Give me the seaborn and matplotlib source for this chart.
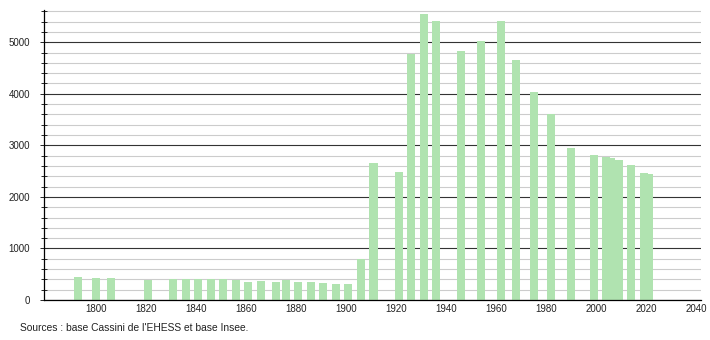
import matplotlib
matplotlib.use("Agg")
import matplotlib.pyplot as plt
from matplotlib.ticker import MultipleLocator, FixedLocator
import numpy as np
import pandas as pd
import seaborn as sns

years = [1793, 1800, 1806, 1821, 1831, 1836, 1841, 1846, 1851, 1856,
         1861, 1866, 1872, 1876, 1881, 1886, 1891, 1896, 1901, 1906,
         1911, 1921, 1926, 1931, 1936, 1946, 1954, 1962, 1968, 1975,
         1982, 1990, 1999, 2004, 2006, 2009, 2014, 2019, 2020, 2021]
population = [440, 425, 433, 385, 403, 405, 408, 410, 402, 384,
              345, 377, 345, 384, 346, 346, 326, 310, 310, 790,
              2653, 2484, 4773, 5549, 5408, 4831, 5025, 5408, 4657, 4036,
              3609, 2949, 2810, 2780, 2755, 2717, 2619, 2462, 2452, 2442]
x_ticks = list(range(1800, 2041, 20))
y_ticks = [0, 1000, 2000, 3000, 4000, 5000]
source_text = "Sources : base Cassini de l'EHESS et base Insee."

sns.set_style("white")
plt.rcParams["font.family"] = ["Liberation Sans", "DejaVu Sans"]

W, H = 710, 340
fig = plt.figure(figsize=(W / 100, H / 100), dpi=100)
ax = fig.add_axes([44 / W, 40 / H, (700.5 - 44) / W, (300 - 10) / H])

df = pd.DataFrame({"year": years, "population": population})
sns.barplot(data=df, x="year", y="population", native_scale=True, width=3.2,
            color="#b0e3b0", saturation=1, errorbar=None, linewidth=0, ax=ax)

ax.set_xlim(1779.4, 2041.6)
ax.set_ylim(0, 5625)
ax.set_xlabel("")
ax.set_ylabel("")

ax.xaxis.set_major_locator(FixedLocator(x_ticks))
ax.set_xticklabels([str(t) for t in x_ticks])
ax.yaxis.set_major_locator(FixedLocator(y_ticks))
ax.set_yticklabels([str(t) for t in y_ticks])
ax.yaxis.set_minor_locator(MultipleLocator(200))

ax.set_axisbelow(True)
ax.grid(which="minor", axis="y", color="#cccccc", linewidth=0.8)
ax.grid(which="major", axis="y", color="#333333", linewidth=0.8)
ax.grid(which="both", axis="x", visible=False)

for s in ["top", "right"]:
    ax.spines[s].set_visible(False)
ax.spines["left"].set_color("#000000")
ax.spines["left"].set_linewidth(0.9)
ax.spines["bottom"].set_color("#000000")
ax.spines["bottom"].set_linewidth(0.9)

ax.tick_params(axis="x", which="both", length=0, pad=3, labelsize=7, labelcolor="#222222")
ax.tick_params(axis="y", which="major", direction="inout", length=6, width=0.7,
               pad=7, labelsize=7, labelcolor="#222222", left=True)
ax.tick_params(axis="y", which="minor", direction="inout", length=5, width=0.7, left=True)

fig.text(20 / W, 1 - 328 / H, source_text, fontsize=7.4, color="#222222",
         ha="left", va="center")

fig.savefig("out.png", dpi=100)
